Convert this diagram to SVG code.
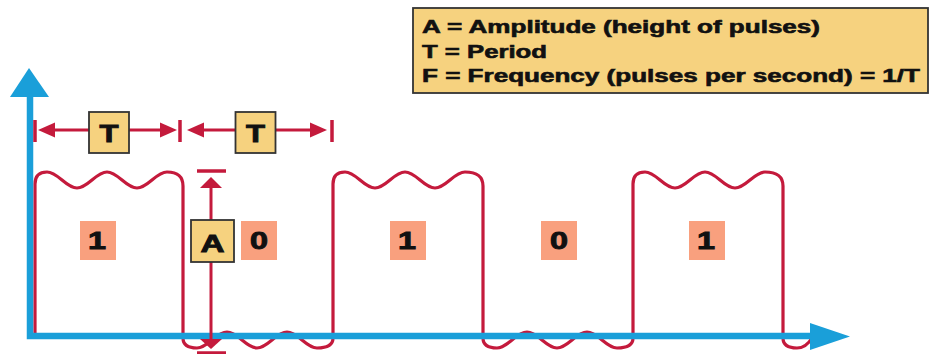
<svg xmlns="http://www.w3.org/2000/svg" width="932" height="354" viewBox="0 0 932 354">
<defs>
<style>
.sig{fill:none;stroke:#c41a3c;stroke-width:3.2;stroke-linejoin:round;stroke-linecap:round}
.red{stroke:#c41a3c;stroke-width:3;fill:none}
.tick{stroke:#c41a3c;stroke-width:3.5}
.head{fill:#c41a3c}
.axis{stroke:#1a9fd9;stroke-width:6.5;fill:none}
.ahead{fill:#1a9fd9}
.ybox{fill:#f6d27f;stroke:#333;stroke-width:1.8}
.lbl{fill:#f9a07e}
.t{font-family:"Liberation Sans",Arial,sans-serif;font-weight:bold;fill:#111;stroke:#111;stroke-width:0.6}
.big{font-size:24px;text-anchor:middle;stroke-width:0.9}
.leg{font-size:18px}
</style>
</defs>
<g id="signal">
<path class="sig" d="M35,336 V184 Q35,172 47,172 C58,172 66,188 77,188 S96,172 107,172 S126,188 137,188 S156,172 167,172 Q183,172 183,186 V338 Q183,348 197,348 C208,348 216,332 227,332 S246,348 257,348 S276,332 287,332 S306,348 317,348 Q333,348 333,338 V184 Q333,172 345,172 C356,172 364,188 375,188 S394,172 405,172 S424,188 435,188 S454,172 465,172 Q483,172 483,186 V338 Q483,348 497,348 C508,348 516,332 527,332 S546,348 557,348 S576,332 587,332 S606,348 617,348 Q633,348 633,338 V184 Q633,172 645,172 C656,172 664,188 675,188 S694,172 705,172 S724,188 735,188 S754,172 765,172 Q783,172 783,186 V338 Q783,348 797,348 Q806,348 812,338"/>
</g>
<g id="axes">
<path class="axis" d="M30,95 V336 H815"/>
<polygon class="ahead" points="29,68 49,97 10,97"/>
<polygon class="ahead" points="850,336.5 810,323 810,350"/>
</g>
<g id="connectors">
<line class="tick" x1="35" y1="120" x2="35" y2="142"/>
<line class="tick" x1="180" y1="120" x2="180" y2="142"/>
<line class="tick" x1="332" y1="120" x2="332" y2="142"/>
<line class="red" x1="50" y1="130" x2="165" y2="130"/>
<polygon class="head" points="38,130 55,122.5 55,137.5"/>
<polygon class="head" points="177,130 160,122.5 160,137.5"/>
<line class="red" x1="200" y1="130" x2="315" y2="130"/>
<polygon class="head" points="187,130 204,122.5 204,137.5"/>
<polygon class="head" points="327,130 310,122.5 310,137.5"/>
<line class="red" x1="211" y1="184" x2="211" y2="343"/>
<line class="tick" x1="197" y1="171" x2="226" y2="171"/>
<polygon class="head" points="211,177 222,188 200,188"/>
<polygon class="head" points="211,349 222,339 200,339"/>
<line class="tick" x1="197" y1="353" x2="226" y2="353"/>
</g>
<g id="T1">
<rect class="ybox" x="89" y="112" width="40" height="41"/>
<text class="t big" x="109" y="142" textLength="19" lengthAdjust="spacingAndGlyphs">T</text>
</g>
<g id="T2">
<rect class="ybox" x="235.5" y="112" width="40" height="41"/>
<text class="t big" x="255.5" y="142" textLength="19" lengthAdjust="spacingAndGlyphs">T</text>
</g>
<g id="A">
<rect class="ybox" x="191" y="220" width="43" height="42"/>
<text class="t big" x="212.5" y="252" textLength="24" lengthAdjust="spacingAndGlyphs">A</text>
</g>
<g id="bit1">
<rect class="lbl" x="80" y="221" width="36" height="39"/>
<text class="t big" x="97" y="249" textLength="18" lengthAdjust="spacingAndGlyphs">1</text>
</g>
<g id="bit2">
<rect class="lbl" x="241" y="221" width="36" height="39"/>
<text class="t big" x="259" y="249" textLength="18" lengthAdjust="spacingAndGlyphs">0</text>
</g>
<g id="bit3">
<rect class="lbl" x="390" y="221" width="36" height="39"/>
<text class="t big" x="407" y="249" textLength="18" lengthAdjust="spacingAndGlyphs">1</text>
</g>
<g id="bit4">
<rect class="lbl" x="541" y="221" width="36" height="39"/>
<text class="t big" x="559" y="249" textLength="18" lengthAdjust="spacingAndGlyphs">0</text>
</g>
<g id="bit5">
<rect class="lbl" x="689" y="221" width="36" height="39"/>
<text class="t big" x="706" y="249" textLength="18" lengthAdjust="spacingAndGlyphs">1</text>
</g>
<g id="legend">
<rect class="ybox" x="413" y="8" width="515" height="85"/>
<text class="t leg" x="422" y="33" textLength="398" lengthAdjust="spacingAndGlyphs">A = Amplitude (height of pulses)</text>
<text class="t leg" x="422" y="58" textLength="125" lengthAdjust="spacingAndGlyphs">T = Period</text>
<text class="t leg" x="422" y="82" textLength="498" lengthAdjust="spacingAndGlyphs">F = Frequency (pulses per second) = 1/T</text>
</g>
</svg>
